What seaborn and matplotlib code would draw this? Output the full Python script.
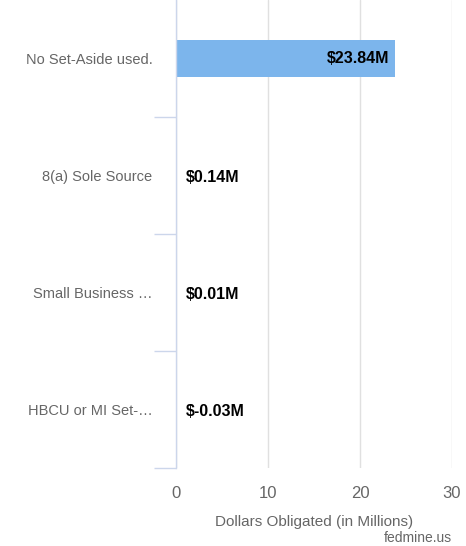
import matplotlib
matplotlib.use("Agg")
import matplotlib.pyplot as plt
import seaborn as sns
import pandas as pd

# chart data
categories = ["No Set-Aside used.", "8(a) Sole Source", "Small Business …", "HBCU or MI Set-…"]
values = [23.84, 0.14, 0.01, -0.03]
x_ticks = [0, 10, 20, 30]

df = pd.DataFrame({"category": categories, "value": values})

sns.set_theme(style="white")
plt.rcParams["font.family"] = ["Liberation Sans", "DejaVu Sans"]

fig = plt.figure(figsize=(4.66, 5.46), dpi=100)
ax = fig.add_axes([176 / 466, 1 - 468 / 546, (452 - 176) / 466, 468 / 546])

sns.barplot(data=df, x="value", y="category", color="#7cb5ec", width=0.31,
            saturation=1, linewidth=0, ax=ax, zorder=3)

ax.set_xlim(0, 30)
ax.set_ylim(3.5, -0.5)
ax.set_xticks(x_ticks)
ax.set_xticklabels([str(t) for t in x_ticks], fontsize=12, color="#666666")
ax.tick_params(axis="x", length=0, pad=13)
ax.grid(axis="x", color="#e0e0e0", linewidth=1, zorder=0)

# category boundary ticks on the left
ax.set_yticks([0, 1, 2, 3])
ax.set_yticklabels(categories, fontsize=10.5, color="#666666")
ax.set_yticks([0.5, 1.5, 2.5, 3.5], minor=True)
ax.tick_params(axis="y", which="major", length=0, pad=17)
ax.tick_params(axis="y", which="minor", length=16, width=1, color="#ccd6eb", left=True)

for side in ["top", "right", "bottom"]:
    ax.spines[side].set_visible(False)
ax.spines["left"].set_color("#ccd6eb")
ax.spines["left"].set_linewidth(1)
ax.spines["left"].set_zorder(5)

# value labels
for i, v in enumerate(values):
    label = f"${v:.2f}M"
    if v > 5:
        ax.text(v - 0.6, i, label, ha="right", va="center", fontsize=11.5,
                fontweight="bold", color="black", zorder=4)
    else:
        ax.text(1.1, i + 0.02, label, ha="left", va="center", fontsize=11.5,
                fontweight="bold", color="black", zorder=4)

ax.set_xlabel("Dollars Obligated (in Millions)", fontsize=11, color="#666666", labelpad=10)
ax.set_ylabel("")

fig.text(452 / 466, 1 - 538 / 546, "fedmine.us", ha="right", va="center",
         fontsize=10, color="#666666")

fig.savefig("out.png", dpi=100)
